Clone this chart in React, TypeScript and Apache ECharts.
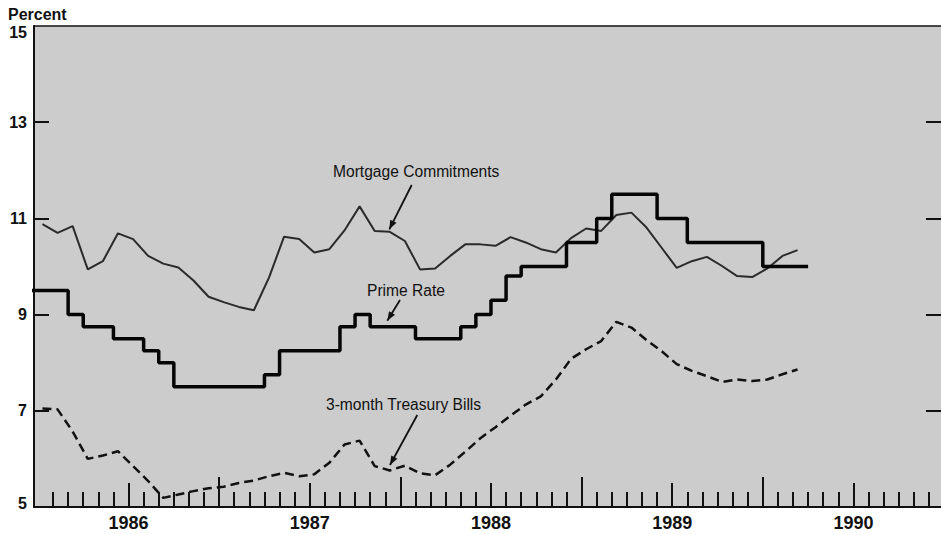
import React, { useEffect, useRef } from 'react';
import * as echarts from 'echarts';

// Month index 0 = January 1986. Monthly averages.
const YEAR_LABELS = ['1986', '1987', '1988', '1989', '1990'];
const Y_LABELS = [5, 7, 9, 11, 13, 15];
const Y_INNER_TICKS = [7, 9, 11, 13];

// Jan 1986 .. Mar 1990
const MORTGAGE = [
  10.88, 10.7, 10.84, 9.94, 10.11, 10.69, 10.57, 10.22, 10.06, 9.98,
  9.71, 9.37, 9.26, 9.16, 9.09, 9.77, 10.62, 10.57, 10.29, 10.36,
  10.75, 11.25, 10.74, 10.72, 10.53, 9.94, 9.96, 10.22, 10.46, 10.46,
  10.43, 10.61, 10.5, 10.36, 10.29, 10.59, 10.79, 10.74, 11.07, 11.12,
  10.81, 10.39, 9.97, 10.11, 10.2, 10.01, 9.8, 9.78, 9.96, 10.22, 10.34,
];

// Jan 1986 .. Mar 1990
const TBILL = [
  7.05, 7.03, 6.57, 6.0, 6.07, 6.16, 5.85, 5.54, 5.19, 5.26,
  5.33, 5.39, 5.42, 5.5, 5.55, 5.64, 5.71, 5.64, 5.68, 5.92,
  6.3, 6.38, 5.85, 5.76, 5.86, 5.7, 5.66, 5.88, 6.15, 6.43,
  6.66, 6.9, 7.13, 7.3, 7.65, 8.08, 8.28, 8.45, 8.85, 8.73,
  8.47, 8.24, 7.97, 7.83, 7.72, 7.6, 7.65, 7.62, 7.65, 7.76, 7.86,
];

// Dec 1985 .. Mar 1990 (monthly steps)
const PRIME_START = -1;
const PRIME = [
  9.5,
  9.5, 9.5, 9.0, 8.75, 8.75, 8.5, 8.5, 8.25, 8.0, 7.5,
  7.5, 7.5, 7.5, 7.5, 7.5, 7.75, 8.25, 8.25, 8.25, 8.25,
  8.75, 9.0, 8.75, 8.75, 8.75, 8.5, 8.5, 8.5, 8.75, 9.0,
  9.3, 9.8, 10.0, 10.0, 10.0, 10.5, 10.5, 11.0, 11.5, 11.5,
  11.5, 11.0, 11.0, 10.5, 10.5, 10.5, 10.5, 10.5, 10.0, 10.0, 10.0,
];

const X_MIN = -0.26;
const X_MAX = 59.8;
const POINT_POS = 0.3; // where a monthly average is plotted within its month

const FONT = '"Liberation Sans", Arial, sans-serif';
const INK = '#111111';

function arrowPoints(x1: number, y1: number, x2: number, y2: number, len = 9, half = 3.5) {
  const dx = x2 - x1;
  const dy = y2 - y1;
  const L = Math.hypot(dx, dy);
  const ux = dx / L;
  const uy = dy / L;
  const bx = x2 - ux * len;
  const by = y2 - uy * len;
  return [
    [x2, y2],
    [bx - uy * half, by + ux * half],
    [bx + uy * half, by - ux * half],
  ];
}

function annotation(text: string, tx: number, ty: number, a: [number, number, number, number]) {
  const [x1, y1, x2, y2] = a;
  return [
    {
      type: 'text',
      x: tx,
      y: ty,
      z: 100,
      style: {
        text,
        fill: INK,
        fontSize: 15.6,
        fontFamily: FONT,
        align: 'left',
        verticalAlign: 'middle',
      },
    },
    {
      type: 'line',
      z: 100,
      shape: { x1, y1, x2, y2 },
      style: { stroke: INK, lineWidth: 1.8 },
    },
    {
      type: 'polygon',
      z: 100,
      shape: { points: arrowPoints(x1, y1, x2, y2) },
      style: { fill: INK },
    },
  ];
}

export default function App() {
  const ref = useRef<HTMLDivElement>(null);

  useEffect(() => {
    if (!ref.current) return;
    const chart = echarts.init(ref.current, undefined, { renderer: 'svg' });

    const monthTicks = Array.from({ length: 59 }, (_, i) => i + 1);
    const julyTicks = YEAR_LABELS.map((_, i) => 6 + 12 * i);
    const janTicks = Array.from({ length: 4 }, (_, i) => 12 * (i + 1));

    const mortgageData = MORTGAGE.map((v, i) => [i + POINT_POS, v]);
    const tbillData = TBILL.map((v, i) => [i + POINT_POS, v]);
    const primeData = PRIME.map((v, i) => [PRIME_START + i, v]);
    primeData.push([PRIME_START + PRIME.length, PRIME[PRIME.length - 1]]);

    const yLabelStyle = { fontSize: 16, fontWeight: 'bold' as const, fontFamily: FONT, color: INK };

    const baseX = {
      type: 'value' as const,
      min: X_MIN,
      max: X_MAX,
      gridIndex: 0,
      splitLine: { show: false },
    };

    chart.setOption({
      animation: false,
      backgroundColor: '#ffffff',
      grid: {
        left: 34,
        right: 0,
        top: 26,
        bottom: 27,
        show: true,
        backgroundColor: '#cccccc',
        borderWidth: 0,
      },
      xAxis: [
        {
          ...baseX,
          position: 'bottom',
          axisLine: { show: true, onZero: false, lineStyle: { color: INK, width: 2 } },
          axisTick: {
            show: true,
            inside: true,
            length: 15,
            customValues: monthTicks,
            lineStyle: { color: INK, width: 2 },
          },
          axisLabel: {
            show: true,
            customValues: julyTicks,
            formatter: (v: number) => YEAR_LABELS[Math.round((v - 6) / 12)] ?? '',
            fontSize: 18,
            fontWeight: 'bold',
            fontFamily: FONT,
            color: INK,
            margin: 7,
          },
        },
        {
          ...baseX,
          position: 'bottom',
          offset: 0,
          axisLine: { show: false, onZero: false },
          axisTick: {
            show: true,
            inside: true,
            length: 24,
            customValues: julyTicks,
            lineStyle: { color: INK, width: 2 },
          },
          axisLabel: { show: false },
        },
        {
          ...baseX,
          position: 'bottom',
          offset: 0,
          axisLine: { show: false, onZero: false },
          axisTick: {
            show: true,
            inside: true,
            length: 30,
            customValues: janTicks,
            lineStyle: { color: INK, width: 2 },
          },
          axisLabel: { show: false },
        },
        {
          ...baseX,
          position: 'top',
          offset: 0,
          axisLine: { show: true, onZero: false, lineStyle: { color: INK, width: 1.5 } },
          axisTick: { show: false },
          axisLabel: { show: false },
        },
      ],
      yAxis: [
        {
          type: 'value',
          min: 5,
          max: 15,
          interval: 2,
          position: 'left',
          splitLine: { show: false },
          axisLine: { show: true, onZero: false, lineStyle: { color: INK, width: 2 } },
          axisTick: {
            show: true,
            inside: true,
            length: 15,
            customValues: Y_INNER_TICKS,
            lineStyle: { color: INK, width: 2 },
          },
          axisLabel: {
            show: true,
            customValues: Y_LABELS,
            margin: 7,
            ...yLabelStyle,
            formatter: (v: number) =>
              v === 15 ? `{t|${v}}` : v === 5 ? `{b|${v}}` : `{n|${v}}`,
            rich: {
              t: { ...yLabelStyle, padding: [12, 0, 0, 0] },
              b: { ...yLabelStyle, padding: [0, 0, 8, 0] },
              n: { ...yLabelStyle },
            },
          },
        },
        {
          type: 'value',
          min: 5,
          max: 15,
          interval: 2,
          position: 'right',
          splitLine: { show: false },
          axisLine: { show: false, onZero: false },
          axisTick: {
            show: true,
            inside: true,
            length: 15,
            customValues: Y_INNER_TICKS,
            lineStyle: { color: INK, width: 2 },
          },
          axisLabel: { show: false },
        },
      ],
      series: [
        {
          name: 'Mortgage Commitments',
          type: 'line',
          xAxisIndex: 0,
          yAxisIndex: 0,
          data: mortgageData,
          symbol: 'none',
          lineStyle: { color: '#2a2a2a', width: 2 },
          z: 3,
        },
        {
          name: '3-month Treasury Bills',
          type: 'line',
          xAxisIndex: 0,
          yAxisIndex: 0,
          data: tbillData,
          symbol: 'none',
          lineStyle: { color: INK, width: 2.5, type: [9, 5] },
          z: 3,
        },
        {
          name: 'Prime Rate',
          type: 'line',
          xAxisIndex: 0,
          yAxisIndex: 0,
          step: 'end',
          data: primeData,
          symbol: 'none',
          lineStyle: { color: '#050505', width: 3.5 },
          z: 4,
        },
      ],
      graphic: [
        {
          type: 'text',
          x: 8,
          y: 14,
          z: 100,
          style: {
            text: 'Percent',
            fill: INK,
            fontSize: 16,
            fontWeight: 'bold',
            fontFamily: FONT,
            align: 'left',
            verticalAlign: 'middle',
          },
        },
        ...annotation('Mortgage Commitments', 333, 171, [411.7, 185, 389.3, 229.3]),
        ...annotation('Prime Rate', 367, 290, [400, 300, 387.3, 320.7]),
        ...annotation('3-month Treasury Bills', 326, 404, [417.3, 415, 390, 465]),
      ],
    });

    return () => {
      chart.dispose();
    };
  }, []);

  return (
    <div
      ref={ref}
      style={{ position: 'fixed', left: 0, top: 0, width: 941, height: 534 }}
    />
  );
}
